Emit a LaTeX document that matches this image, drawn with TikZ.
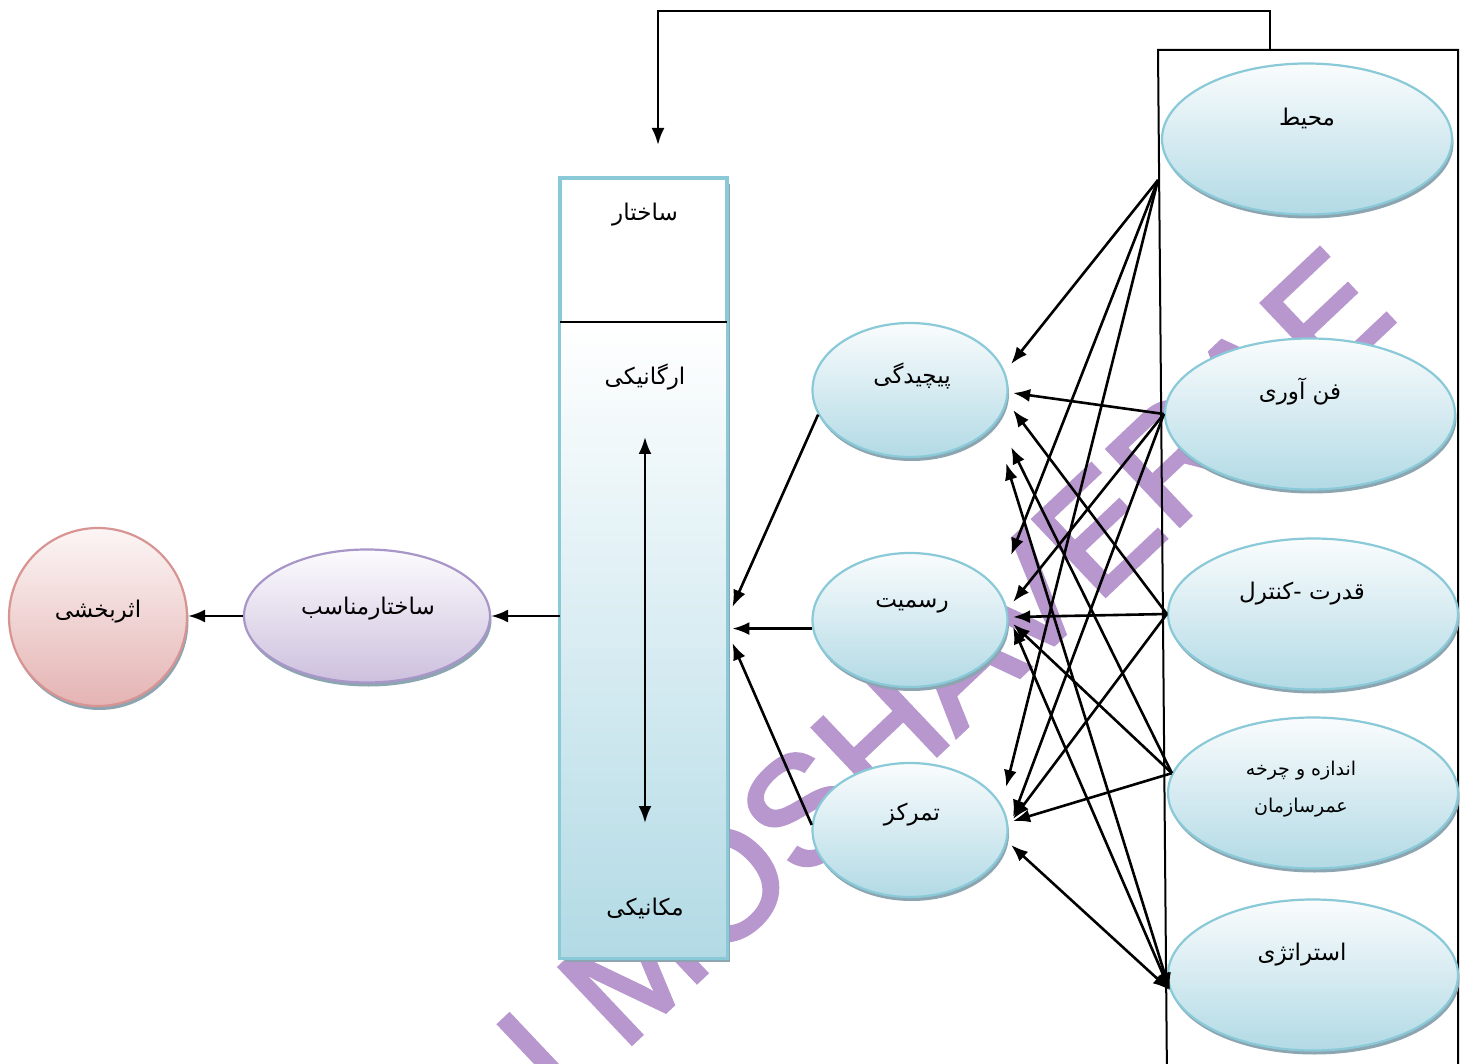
\documentclass[tikz,border=0pt]{standalone}
\usepackage{fontspec}
\usetikzlibrary{shapes.geometric,arrows.meta,shadows,calc}
\TeXXeTstate=1
\newfontfamily\fafont[Script=Arabic]{DejaVu Sans}
\newfontfamily\wmfont[FakeBold=2.5]{Liberation Sans}
\newcommand\fatxt[1]{\beginR#1\endR}
\definecolor{bluetop}{RGB}{250,252,253}
\definecolor{bluebot}{RGB}{178,218,229}
\definecolor{blueline}{RGB}{137,201,216}
\definecolor{shadowc}{RGB}{140,165,176}
\definecolor{purtop}{RGB}{252,251,253}
\definecolor{purbot}{RGB}{205,192,222}
\definecolor{purline}{RGB}{168,150,200}
\definecolor{pinktop}{RGB}{252,245,245}
\definecolor{pinkbot}{RGB}{228,180,179}
\definecolor{pinkline}{RGB}{216,148,147}
\definecolor{wmc}{RGB}{183,151,206}
\begin{document}
\begin{tikzpicture}[x=1pt,y=-1pt,
  fatext/.style={font=\fafont\fontsize{23}{27}\selectfont, text=black, inner sep=0pt},
  smalltext/.style={font=\fafont\fontsize{19}{23}\selectfont, text=black, inner sep=0pt, align=center},
  shad/.style={drop shadow={shadow xshift=1.5pt, shadow yshift=-4pt, fill=shadowc, opacity=1}},
  blueell/.style={ellipse, draw=blueline, line width=2.2pt, top color=bluetop, bottom color=bluebot, shad, inner sep=0pt},
  midell/.style={blueell, minimum width=195pt, minimum height=134pt},
  rightell/.style={blueell, minimum width=290pt, minimum height=151pt},
  arr/.style={line width=2.6pt, -{Latex[length=17pt,width=13pt]}},
  darr/.style={line width=2.6pt, {Latex[length=17pt,width=13pt]}-{Latex[length=17pt,width=13pt]}},
]
\useasboundingbox (0,0) rectangle (1465,1064);
\clip (0,0) rectangle (1465,1064);
\fill[white] (0,0) rectangle (1465,1064);

% watermark
\node[rotate=43.4, text=wmc, font=\wmfont\fontsize{153}{153}\selectfont, inner sep=0pt] (wm) at (944,676) {I MOSHAVERAE};

% frame of the contingency factors
\coordinate (envBL) at (1167,1080);
\coordinate (envTL) at (1158,50);
\coordinate (envTR) at (1458,50);
\coordinate (envBR) at (1458,1080);
\draw[line width=2pt] (envBL) -- (envTL) -- (envTR) -- (envBR);
\coordinate (envtop) at (1270,50);
\coordinate (mo) at (1158,180);

% structure column
\node[draw=blueline, line width=2.8pt, fill=white, minimum width=165pt, minimum height=778pt, inner sep=0pt,
      drop shadow={shadow xshift=4pt, shadow yshift=-5pt, fill=shadowc, opacity=1}] (struct) at (643.5,568) {};
\coordinate (div) at (643.5,322);
\shade[top color=white, bottom color=bluebot] (struct.west |- div) rectangle (struct.south east);
\draw[blueline, line width=2.8pt] (struct.north west) rectangle (struct.south east);
\draw[line width=1.5pt] (struct.west |- div) -- (struct.east |- div);
\node[fatext] (sakhT) at (645,215) {\fatxt{ساختار}};
\node[fatext] (orgT) at (645,377) {\fatxt{ارگانیکی}};
\node[fatext] (mechT) at (645,908) {\fatxt{مکانیکی}};
\coordinate (orgA) at (645,437);
\coordinate (mechA) at (645,823);
\draw[darr] (orgA) -- (mechA);

% left nodes
\node[ellipse, draw=purline, line width=2.2pt, top color=purtop, bottom color=purbot, shad, inner sep=0pt,
      minimum width=246pt, minimum height=133pt] (ms) at (367,616) {};
\node[fatext] (msT) at (368,609) {\fatxt{ساختارمناسب}};
\node[circle, draw=pinkline, line width=2.2pt, top color=pinktop, bottom color=pinkbot, shad, inner sep=0pt,
      minimum size=178pt] (asar) at (98,617) {};
\node[fatext] (asarT) at (98,612) {\fatxt{اثربخشی}};

% middle nodes
\node[midell] (pich) at (910,390) {};
\node[fatext] (pichT) at (912,376) {\fatxt{پیچیدگی}};
\node[midell] (rasm) at (910,620) {};
\node[fatext] (rasmT) at (912,606) {\fatxt{رسمیت}};
\node[midell] (tamar) at (910,830) {};
\node[fatext] (tamarT) at (912,815) {\fatxt{تمرکز}};

% right nodes
\node[rightell] (mohit) at (1307,139) {};
\node[fatext] (mohitT) at (1307,118) {\fatxt{محیط}};
\node[rightell] (fan) at (1310,414) {};
\node[fatext] (fanT) at (1300,392) {\fatxt{فن آوری}};
\node[rightell] (qodrat) at (1313,614) {};
\node[fatext] (qodratT) at (1302,594) {\fatxt{قدرت -کنترل}};
\node[rightell] (andaze) at (1313,793) {};
\node[smalltext] (andazeT) at (1301,789) {\fatxt{اندازه و چرخه}\\[14pt]\fatxt{عمرسازمان}};
\node[rightell] (strat) at (1313,975) {};
\node[fatext] (stratT) at (1302,955) {\fatxt{استراتژی}};

% feedback line
\coordinate (fbend) at (658,145);
\draw[arr] (envtop) -- ++(0,-39) -| (fbend);

% to the structure column
\draw[arr] (struct.west |- ms.east) -- (ms.east);
\draw[arr] (ms.west) -- (asar.east |- ms.west);
\coordinate (sA) at ($(struct.east)+(5,39)$);
\coordinate (sC) at ($(struct.east)+(5,75)$);
\draw[arr] (pich.195) -- (sA);
\draw[arr] (rasm.185) -- ($(struct.east |- rasm.185)+(5,0)$);
\draw[arr] (tamar.177) -- (sC);

% environment
\draw[arr] (mo) -- ($(pich.east)+(2.5,-26)$);
\draw[arr] (mo) -- ($(rasm.east)+(2.5,-65)$);
\draw[arr] (mo) -- ($(tamar.east)+(-2.5,-43)$);
% technology
\draw[arr] (fan.west) -- ($(pich.east)+(4.5,3)$);
\draw[arr] (fan.west) -- ($(rasm.east)+(4.5,-18)$);
\draw[arr] (fan.west) -- ($(tamar.east)+(4.5,-13)$);
% power-control
\draw[arr] (qodrat.west) -- ($(pich.east)+(4.5,20)$);
\draw[arr] (qodrat.west) -- ($(rasm.east)+(4.5,-3)$);
\draw[arr] (qodrat.west) -- ($(tamar.east)+(4.5,-11)$);
% size and life cycle
\draw[arr] (andaze.172) -- ($(pich.east)+(2.5,57)$);
\draw[arr] (andaze.172) -- ($(rasm.east)+(4.5,4)$);
\draw[arr] (andaze.172) -- ($(tamar.east)+(4.5,-9)$);
% strategy
\draw[darr] (strat.186) -- ($(pich.east)+(-2.5,73)$);
\draw[darr] (strat.186) -- ($(rasm.east)+(4.5,7)$);
\draw[darr] (strat.186) -- ($(tamar.east)+(2.5,15)$);
\end{tikzpicture}
\end{document}
